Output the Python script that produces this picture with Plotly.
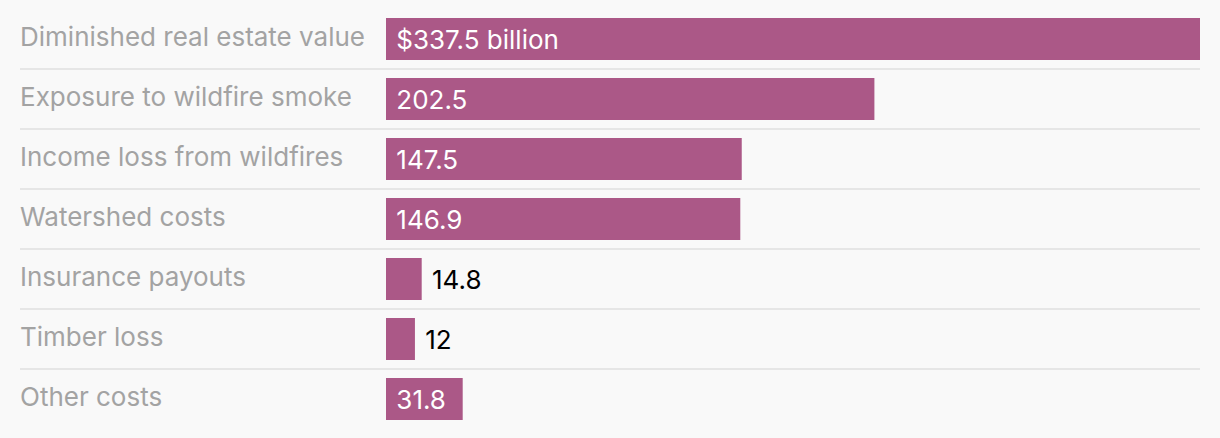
import plotly.graph_objects as go

categories = ["Diminished real estate value", "Exposure to wildfire smoke", "Income loss from wildfires",
              "Watershed costs", "Insurance payouts", "Timber loss", "Other costs"]
values = [337.5, 202.5, 147.5, 146.9, 14.8, 12, 31.8]
value_labels = ["$337.5 billion", "202.5", "147.5", "146.9", "14.8", "12", "31.8"]
label_inside = [True, True, True, True, False, False, True]

BAR = "#ab5887"
BG = "#f9f9f9"
GRAY = "#a3a3a3"
FONT = "Inter"

W, H = 1220, 438
L, R, T, B = 386, 20, 9, 9
plot_w = W - L - R
left_paper = (20 - L) / plot_w

fig = go.Figure(go.Bar(
    y=categories, x=values, orientation="h",
    marker=dict(color=BAR, line=dict(width=0)),
    width=0.7,
    text=[" " + t for t in value_labels],
    textposition=["inside" if i else "outside" for i in label_inside],
    insidetextanchor="start",
    textangle=0,
    insidetextfont=dict(color="white", size=26, family=FONT),
    outsidetextfont=dict(color="black", size=26, family=FONT),
    cliponaxis=False,
    hoverinfo="skip",
))

shapes = []
for i in range(len(categories) - 1):
    shapes.append(dict(type="line", xref="paper", yref="y", x0=left_paper, x1=1,
                       y0=i + 0.5, y1=i + 0.5, line=dict(color="#e6e6e6", width=2), layer="below"))

annotations = []
for c in categories:
    annotations.append(dict(xref="paper", yref="y", x=left_paper, y=c, text=c, showarrow=False,
                            xanchor="left", yanchor="middle", xshift=-2, yshift=3,
                            font=dict(color=GRAY, size=26, family=FONT)))

fig.update_layout(
    width=W, height=H,
    margin=dict(l=L, r=R, t=T, b=B),
    paper_bgcolor=BG, plot_bgcolor=BG,
    showlegend=False,
    xaxis=dict(range=[0, max(values)], visible=False, fixedrange=True),
    yaxis=dict(visible=False, range=[6.5, -0.5], fixedrange=True),
    shapes=shapes, annotations=annotations,
    uniformtext=dict(mode=False),
)
fig.write_html("out.html", config={"displayModeBar": False},
               post_script="document.body.style.margin='0';document.body.style.background='%s';" % BG)
